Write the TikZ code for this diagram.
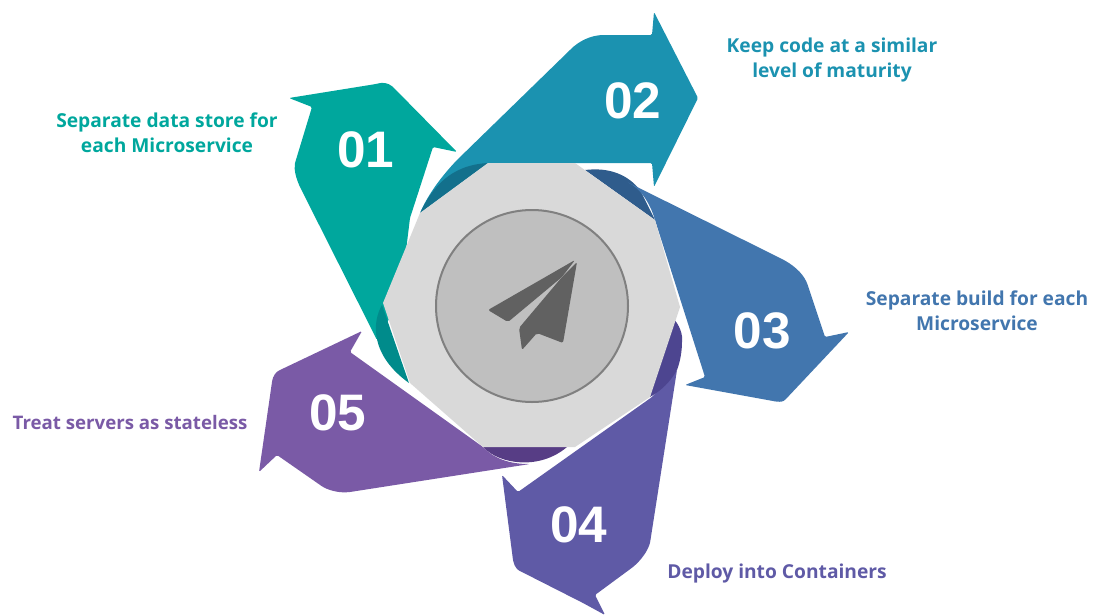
\documentclass[tikz,border=0pt]{standalone}
\usepackage{fontspec}
\setmainfont{Open Sans}
\newfontfamily\numfont{Liberation Sans}
\tikzset{
  x=0.75pt,y=-0.75pt,
  num/.style={text=white,font=\numfont\fontsize{38.5}{39}\bfseries\selectfont,inner sep=0pt},
  lab/.style={font=\fontsize{14.4}{18.5}\bfseries\selectfont,align=center,inner sep=0pt},
  tipr/.style={rounded corners=1pt},
}
\definecolor{cA}{HTML}{00A79D}
\definecolor{cAd}{HTML}{008B8B}
\definecolor{cB}{HTML}{1B92B0}
\definecolor{cBd}{HTML}{13708C}
\definecolor{cC}{HTML}{4276AE}
\definecolor{cCd}{HTML}{2F5C8C}
\definecolor{cD}{HTML}{5F5AA6}
\definecolor{cDd}{HTML}{4D4590}
\definecolor{cE}{HTML}{7A5AA6}
\definecolor{cEd}{HTML}{573D85}
\begin{document}
\begin{tikzpicture}
\useasboundingbox (0,0) rectangle (1096,615);
% arrow 01 and 02, their folds lie on top
\fill[cA,tipr] (289,98) -- (376,84) .. controls (383,82) and (388,83) .. (393,87) -- (457,152) -- (433,147) -- (410,218) -- (400,300) -- (377,340) -- (300,187) .. controls (296,178) and (294,170) .. (295,163) -- (312,107) -- cycle;
\fill[cAd] (382,305) .. controls (372,322) and (370,355) .. (409,383) -- cycle;
\fill[cB,tipr] (654,12) -- (652,35) -- (605,35) .. controls (590,35) and (578,42) .. (570,50) -- (457,160) .. controls (440,178) and (428,195) .. (420,213) -- (488,163) -- (652,163) -- (654,187) -- (698,98) -- cycle;
\fill[cBd] (420,213) .. controls (432,188) and (450,165) .. (488,163) -- cycle;
% fold 03 lies under its arrow
\fill[cCd] (585,170) .. controls (610,167) and (628,175) .. (640,190) -- (655,220) -- cycle;
\fill[cC,tipr] (627,182) .. controls (640,188) and (650,203) .. (655,220) -- (705,377) -- (685,385) -- (773,401) .. controls (778,402) and (782,402) .. (785,400) -- (849,332) -- (825,337) -- (807,283) .. controls (802,272) and (792,264) .. (780,258) -- cycle;
% arrow 04, fold on top
\fill[cD,tipr] (502,475) -- (518,492) -- (652,397) -- (677,370) -- (650,543) .. controls (647,552) and (641,560) .. (633,567) -- (595,595) -- (605,615) -- (583,603) -- (518,570) .. controls (515,567) and (514,564) .. (513,560) -- cycle;
\fill[cDd] (672,317) .. controls (680,325) and (683,335) .. (682,342) .. controls (682,352) and (680,362) .. (677,370) .. controls (670,382) and (662,390) .. (650,397) -- cycle;
% fold 05 under its arrow
\fill[cEd] (483,447) .. controls (500,465) and (540,470) .. (567,447) -- cycle;
\fill[cE,tipr] (362,331) -- (350,352) -- (483,447) .. controls (495,459) and (510,464) .. (530,464) -- (350,492) .. controls (340,493) and (331,491) .. (323,487) -- (277,455) -- (259,472) -- (272,382) .. controls (273,376) and (276,372) .. (280,370) -- cycle;
% hub
\fill[black!15] (488,163) -- (575,163) -- (655,220) -- (680,307) -- (650,397) -- (575,447) -- (483,447) -- (410,383) -- (383,303) -- (420,213) -- cycle;
\node (hubc) at (532,306) [circle,minimum size=144pt,inner sep=0pt,fill=black!25,draw=black!50,line width=1.5pt] {};
% plane
\fill[black!62,rounded corners=1.5pt] (575,260) -- (488,310) -- (508,322) -- (562,277) -- cycle;
\fill[black!62,rounded corners=1.5pt] (577,262) -- (563,343) -- (537,333) -- (522,350) -- (519,328) -- (562,277) -- cycle;
% numbers
\node[num] (n1) at (366,150) {01};
\node[num] (n2) at (633,101) {02};
\node[num] (n3) at (762,331) {03};
\node[num] (n4) at (579,525) {04};
\node[num] (n5) at (338,413) {05};
% labels
\node[lab,text=cA] (l1) at (167,133) {Separate data store for\\each Microservice};
\node[lab,text=cB] (l2) at (832,60) {Keep code at a similar\\level of maturity};
\node[lab,text=cC] (l3) at (977,311) {Separate build for each\\Microservice};
\node[lab,text=cD] (l4) at (777,574) {Deploy into Containers};
\node[lab,text=cE,font=\fontsize{14}{18}\bfseries\selectfont] (l5) at (130,422) {Treat servers as stateless};
\end{tikzpicture}
\end{document}
